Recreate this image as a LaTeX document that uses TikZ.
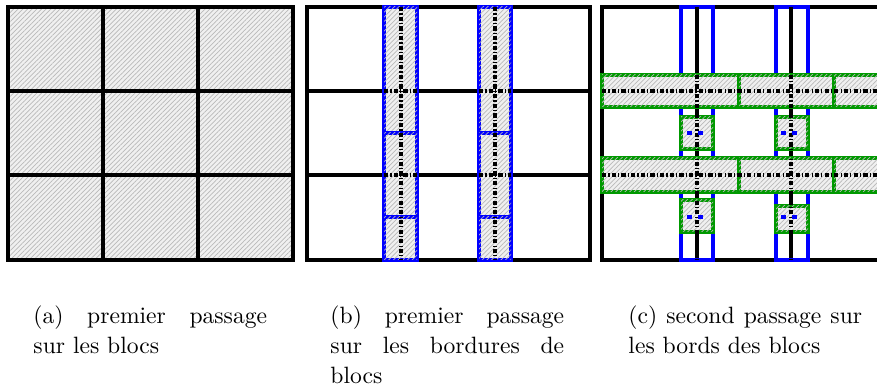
\documentclass[tikz,border=0pt]{standalone}
\usepackage{amsmath, amssymb}
\usetikzlibrary{patterns.meta}

\tikzset{
  bloc/.style={fill=gray!12, postaction={pattern={Lines[angle=45,distance=1.4pt,line width=0.3pt]}, pattern color=gray!55}},
  grille/.style={draw=black, line width=1.6pt},
  bordbleu/.style={draw=blue, line width=1.3pt},
  bordvert/.style={draw=green!60!black, line width=1.3pt},
  pointille/.style={draw=black, line width=1.4pt, dash pattern=on 1.8pt off 0.9pt on 0.5pt off 0.9pt},
  tiretbleu/.style={draw=blue, line width=1.4pt, dash pattern=on 2.1pt off 2.5pt on 2.1pt off 10pt},
  legende/.style={anchor=north west, inner sep=0pt, text width=99pt, align=justify,
    font=\fontsize{10}{12.7}\selectfont,
    execute at begin node={\hyphenpenalty=10000\relax\tolerance=10000\relax}}
}

\begin{document}
\begin{tikzpicture}[x=0.4237pt, y=-0.4237pt]
        \clip (0,0) rectangle (877,387);
        % premier passage sur les blocs
        \fill[bloc] (8,7) rectangle (293,260);
        \draw[grille] (8,7) rectangle (293,260);
        \draw[grille] (103,7) -- (103,260);
        \draw[grille] (198,7) -- (198,260);
        \draw[grille] (8,91) -- (293,91);
        \draw[grille] (8,175) -- (293,175);
        % premier passage sur les bordures
        \draw[grille] (307,7) rectangle (590,260);
        \draw[grille] (401,7) -- (401,260);
        \draw[grille] (495,7) -- (495,260);
        \draw[grille] (307,91) -- (590,91);
        \draw[grille] (307,175) -- (590,175);
        \draw[bloc, bordbleu] (384,7) rectangle (417,133);
        \draw[bloc, bordbleu] (384,133) rectangle (417,217);
        \draw[bloc, bordbleu] (384,217) rectangle (417,260);
        \draw[bloc, bordbleu] (479,7) rectangle (511,133);
        \draw[bloc, bordbleu] (479,133) rectangle (511,217);
        \draw[bloc, bordbleu] (479,217) rectangle (511,260);
        \draw[pointille] (401,7) -- (401,260);
        \draw[pointille] (495,7) -- (495,260);
        \draw[pointille] (384,91) -- (417,91);
        \draw[pointille] (384,175) -- (417,175);
        \draw[pointille] (479,91) -- (511,91);
        \draw[pointille] (479,175) -- (511,175);
        % second passage sur les bords
        \draw[grille] (602,7) rectangle (886,260);
        \draw[grille] (697,7) -- (697,260);
        \draw[grille] (791,7) -- (791,260);
        \draw[bordbleu] (681,7) rectangle (713,260);
        \draw[bordbleu] (776,7) rectangle (808,260);
        \draw[bloc, bordvert] (602,75) rectangle (739,107);
        \draw[bloc, bordvert] (739,75) rectangle (834,107);
        \draw[bloc, bordvert] (834,75) rectangle (892,107);
        \draw[bloc, bordvert] (602,158) rectangle (739,192);
        \draw[bloc, bordvert] (739,158) rectangle (834,192);
        \draw[bloc, bordvert] (834,158) rectangle (892,192);
        \draw[bloc, bordvert] (681,117) rectangle (713,149);
        \draw[bloc, bordvert] (776,117) rectangle (808,149);
        \draw[bloc, bordvert] (681,200) rectangle (713,232);
        \draw[bloc, bordvert] (776,206) rectangle (808,232);
        \draw[pointille] (697,7) -- (697,260);
        \draw[pointille] (791,7) -- (791,260);
        \draw[pointille] (602,91) -- (877,91);
        \draw[pointille] (602,175) -- (877,175);
        \draw[tiretbleu] (687,133) -- (703,133);
        \draw[tiretbleu] (781,133) -- (797,133);
        \draw[tiretbleu] (687,217) -- (703,217);
        \draw[tiretbleu] (781,217) -- (797,217);
        % legendes
        \node[legende] (lega) at (33,305) {(a) premier passage sur les blocs};
        \node[legende] (legb) at (330,305) {(b) premier passage sur les bordures de blocs};
        \node[legende] (legc) at (628,305) {(c) second passage sur les bords des blocs};
      \end{tikzpicture}
\end{document}
